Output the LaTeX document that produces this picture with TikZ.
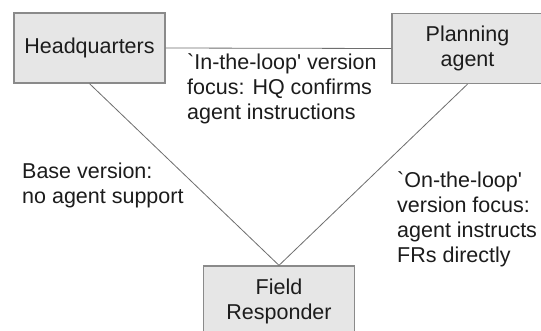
\documentclass[tikz,border=0pt]{standalone}
\usepackage{fontspec}
\setmainfont{Liberation Sans}[Ligatures=TeXOff]
\definecolor{boxfill}{HTML}{E6E6E6}
\definecolor{boxborder}{HTML}{8A8A8A}
\definecolor{linkcol}{HTML}{6E6E6E}
\definecolor{txt}{HTML}{1C1C1C}
\newcommand\fs{\fontsize{21.5}{25}\selectfont}
\begin{document}
\begin{tikzpicture}[x=1pt,y=-1pt,
  box/.style={draw=boxborder, fill=boxfill, line width=1.3pt, minimum width=151pt,
    minimum height=70pt, inner sep=0pt, align=center, font=\fs, text=txt},
  link/.style={draw=linkcol, line width=0.8pt},
  lbl/.style={align=left, inner sep=0pt, anchor=base west, font=\fs, text=txt}]
\useasboundingbox (0,0) rectangle (541,330);
\clip (0,0) rectangle (541,330);
\fill[white] (0,0) rectangle (541,330);
\node[box] (hq) at (89.5,48) {Headquarters};
\node[box] (pa) at (467.5,48.5) {Planning\\agent};
\node[box] (fr) at (279,301) {Field\\Responder};
\draw[link] (hq.east) -- (pa.west);
\draw[link] (hq.south) -- (fr.north);
\draw[link] (pa.south) -- (fr.north);
% anchor base = baseline of the last line
\node[lbl] (inloop) at (187,119) {`In-the-loop' version\\focus: HQ confirms\\agent instructions};
\node[lbl] (base) at (22,203) {Base version:\\no agent support};
\node[lbl] (onloop) at (397,262) {`On-the-loop'\\version focus:\\agent instructs\\FRs directly};
\end{tikzpicture}
\end{document}
